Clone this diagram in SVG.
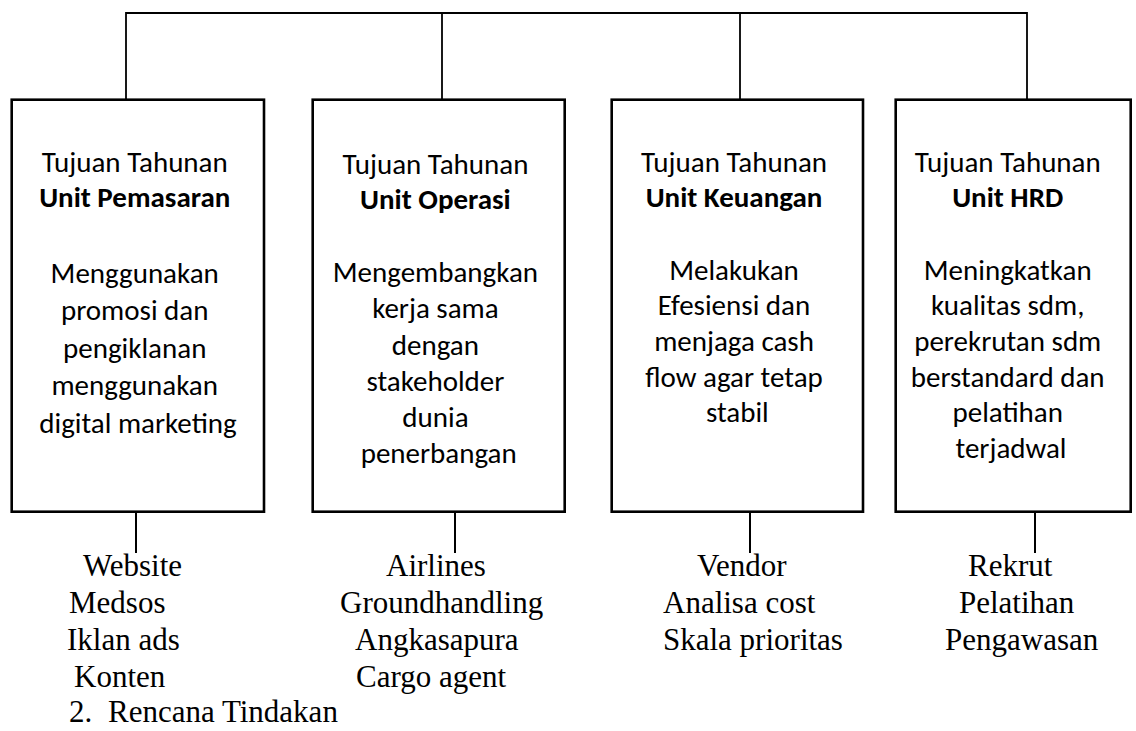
<svg xmlns="http://www.w3.org/2000/svg" width="1136" height="731" viewBox="0 0 1136 731">
  <style>
    .box { fill: #ffffff; stroke: #000000; stroke-width: 2.6; }
    .link { fill: none; stroke: #000000; stroke-width: 2; }
    .bus { fill: none; stroke: #000000; stroke-width: 1.8; }
    .goal { font-family: Carlito, Lato, "Open Sans", sans-serif; font-size: 29px; fill: #000000; text-anchor: middle; }
    .goal .b { font-weight: bold; }
    .plan { font-family: "Liberation Serif", "Times New Roman", serif; font-size: 31px; fill: #000000; }
  </style>

  <!-- connectors: top bus and drops into each unit, plus the stems down to the action lists -->
  <g id="connectors">
    <polyline class="bus" points="126,100 126,13 1027,13 1027,100"/>
    <line class="bus" x1="442" y1="13" x2="442" y2="100"/>
    <line class="bus" x1="740" y1="13" x2="740" y2="100"/>
    <line class="link" x1="136" y1="512" x2="136" y2="553"/>
    <line class="link" x1="455" y1="512" x2="455" y2="553"/>
    <line class="link" x1="750" y1="512" x2="750" y2="553"/>
    <line class="link" x1="1035" y1="512" x2="1035" y2="553"/>
  </g>

  <!-- unit: marketing -->
  <g id="unit-pemasaran">
    <rect class="box" x="11.7" y="99.7" width="252.3" height="412"/>
    <text class="goal">
      <tspan x="138" y="172">Tujuan Tahunan</tspan>
      <tspan class="b" x="138" y="207">Unit Pemasaran</tspan>
      <tspan x="138" y="283">Menggunakan</tspan>
      <tspan x="138" y="320">promosi dan</tspan>
      <tspan x="138" y="358">pengiklanan</tspan>
      <tspan x="138" y="395">menggunakan</tspan>
      <tspan x="138" y="433">digital marketing</tspan>
    </text>
  </g>

  <!-- unit: operations -->
  <g id="unit-operasi">
    <rect class="box" x="312.7" y="99.7" width="252" height="412"/>
    <text class="goal">
      <tspan x="438.7" y="174">Tujuan Tahunan</tspan>
      <tspan class="b" x="438.7" y="209">Unit Operasi</tspan>
      <tspan x="438.7" y="282">Mengembangkan</tspan>
      <tspan x="438.7" y="318">kerja sama</tspan>
      <tspan x="438.7" y="355">dengan</tspan>
      <tspan x="438.7" y="391">stakeholder</tspan>
      <tspan x="438.7" y="427">dunia</tspan>
      <tspan x="438.7" y="463">penerbangan</tspan>
    </text>
  </g>

  <!-- unit: finance -->
  <g id="unit-keuangan">
    <rect class="box" x="611.7" y="99.7" width="251.3" height="412"/>
    <text class="goal">
      <tspan x="737.3" y="172">Tujuan Tahunan</tspan>
      <tspan class="b" x="737.3" y="207">Unit Keuangan</tspan>
      <tspan x="737.3" y="280">Melakukan</tspan>
      <tspan x="737.3" y="315">Efesiensi dan</tspan>
      <tspan x="737.3" y="351">menjaga cash</tspan>
      <tspan x="737.3" y="387">flow agar tetap</tspan>
      <tspan x="737.3" y="422">stabil</tspan>
    </text>
  </g>

  <!-- unit: human resources -->
  <g id="unit-hrd">
    <rect class="box" x="895.7" y="99.7" width="235" height="412"/>
    <text class="goal">
      <tspan x="1011" y="172">Tujuan Tahunan</tspan>
      <tspan class="b" x="1011" y="207">Unit HRD</tspan>
      <tspan x="1011" y="280">Meningkatkan</tspan>
      <tspan x="1011" y="315">kualitas sdm,</tspan>
      <tspan x="1011" y="351">perekrutan sdm</tspan>
      <tspan x="1011" y="387">berstandard dan</tspan>
      <tspan x="1011" y="422">pelatihan</tspan>
      <tspan x="1011" y="458">terjadwal</tspan>
    </text>
  </g>

  <!-- action lists under each unit -->
  <g id="actions-pemasaran">
    <text class="plan">
      <tspan x="83" y="576">Website</tspan>
      <tspan x="69" y="613">Medsos</tspan>
      <tspan x="67" y="650">Iklan ads</tspan>
      <tspan x="74" y="687">Konten</tspan>
    </text>
  </g>
  <g id="actions-operasi">
    <text class="plan">
      <tspan x="386" y="576">Airlines</tspan>
      <tspan x="340" y="613">Groundhandling</tspan>
      <tspan x="355" y="650">Angkasapura</tspan>
      <tspan x="356" y="687">Cargo agent</tspan>
    </text>
  </g>
  <g id="actions-keuangan">
    <text class="plan">
      <tspan x="697" y="576">Vendor</tspan>
      <tspan x="663" y="613">Analisa cost</tspan>
      <tspan x="663" y="650">Skala prioritas</tspan>
    </text>
  </g>
  <g id="actions-hrd">
    <text class="plan">
      <tspan x="968" y="576">Rekrut</tspan>
      <tspan x="959" y="613">Pelatihan</tspan>
      <tspan x="945" y="650">Pengawasan</tspan>
    </text>
  </g>

  <!-- section heading -->
  <text class="plan"><tspan x="69" y="722">2.</tspan><tspan x="108" y="722">Rencana Tindakan</tspan></text>
</svg>
